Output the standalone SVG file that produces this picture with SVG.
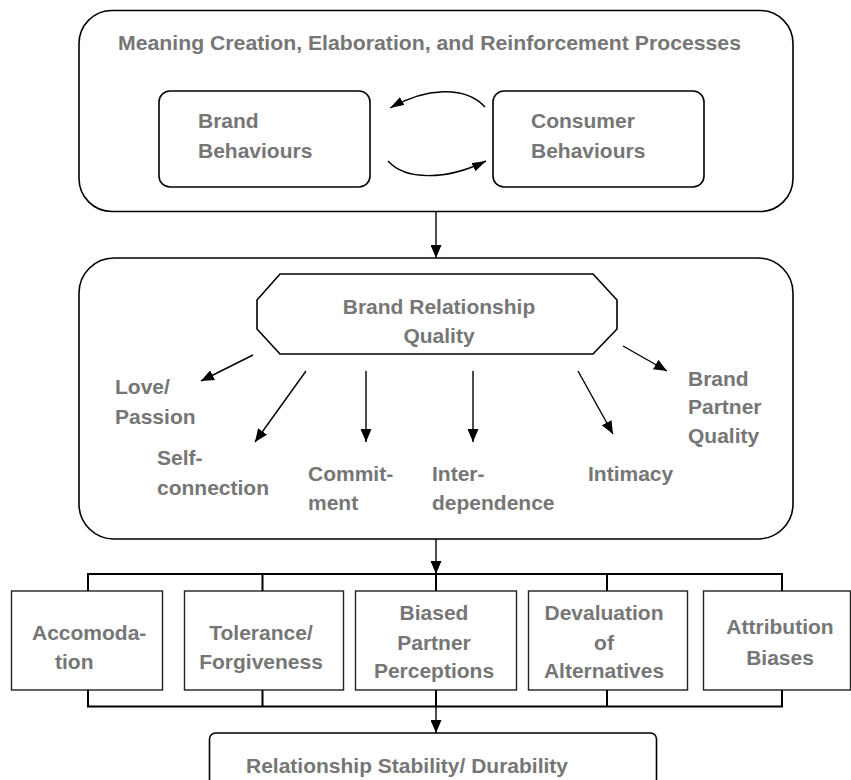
<svg xmlns="http://www.w3.org/2000/svg" width="851" height="780" viewBox="0 0 851 780">
  <style>
    .frame { fill: #ffffff; stroke: #000000; stroke-width: 1.6; }
    .box { fill: #ffffff; stroke: #222222; stroke-width: 1.4; }
    .lbl { font-family: "Liberation Sans", Arial, sans-serif; font-weight: bold; font-size: 21px; fill: #767676; }
    .mid { text-anchor: middle; }
    .link { fill: none; stroke: #000000; stroke-width: 1.4; }
    .bracket { fill: none; stroke: #000000; stroke-width: 2; }
  </style>
  <defs>
    <marker id="head" markerUnits="userSpaceOnUse" markerWidth="13" markerHeight="11" refX="13" refY="5.5" orient="auto">
      <path d="M0,0 L13,5.5 L0,11 z" fill="#000000"/>
    </marker>
    <marker id="headSmall" markerUnits="userSpaceOnUse" markerWidth="14" markerHeight="9" refX="14" refY="4.5" orient="auto">
      <path d="M0,0 L14,4.5 L0,9 z" fill="#000000"/>
    </marker>
  </defs>

  <rect width="851" height="780" fill="#ffffff"/>

  <!-- Meaning creation process container -->
  <g id="meaning-processes">
    <rect class="frame" x="79" y="10.5" width="714" height="201" rx="33" ry="33"/>
    <text class="lbl" x="118" y="50" textLength="623" lengthAdjust="spacingAndGlyphs">Meaning Creation, Elaboration, and Reinforcement Processes</text>
  </g>

  <g id="brand-behaviours">
    <rect class="frame" x="159" y="91" width="211" height="96" rx="11" ry="11"/>
    <text class="lbl" x="198" y="128">Brand</text>
    <text class="lbl" x="198" y="158">Behaviours</text>
  </g>

  <g id="consumer-behaviours">
    <rect class="frame" x="493" y="91" width="211" height="96" rx="11" ry="11"/>
    <text class="lbl" x="531" y="128">Consumer</text>
    <text class="lbl" x="531" y="158">Behaviours</text>
  </g>

  <!-- Brand relationship quality container -->
  <g id="relationship-quality">
    <rect class="frame" x="79" y="258" width="714" height="281" rx="35" ry="35"/>
    <polygon class="frame" points="280,274 593,274 617,300 617,329 593,354 280,354 257,329 257,300"/>
    <text class="lbl mid" x="439" y="314">Brand Relationship</text>
    <text class="lbl mid" x="439" y="343">Quality</text>
  </g>

  <g id="facet-love">
    <text class="lbl" x="115" y="394">Love/</text>
    <text class="lbl" x="115" y="424">Passion</text>
  </g>
  <g id="facet-self">
    <text class="lbl" x="157" y="465">Self-</text>
    <text class="lbl" x="157" y="495">connection</text>
  </g>
  <g id="facet-commitment">
    <text class="lbl" x="308" y="481">Commit-</text>
    <text class="lbl" x="308" y="510">ment</text>
  </g>
  <g id="facet-interdependence">
    <text class="lbl" x="432" y="481">Inter-</text>
    <text class="lbl" x="432" y="510">dependence</text>
  </g>
  <g id="facet-intimacy">
    <text class="lbl" x="588" y="481">Intimacy</text>
  </g>
  <g id="facet-partner-quality">
    <text class="lbl" x="688" y="386">Brand</text>
    <text class="lbl" x="688" y="414">Partner</text>
    <text class="lbl" x="688" y="443">Quality</text>
  </g>

  <!-- Maintenance processes -->
  <g id="accommodation">
    <rect class="box" x="11.5" y="591" width="151" height="99"/>
    <text class="lbl" x="32" y="640">Accomoda-</text>
    <text class="lbl" x="55" y="669">tion</text>
  </g>
  <g id="tolerance">
    <rect class="box" x="184.5" y="591" width="159" height="99"/>
    <text class="lbl mid" x="261" y="640">Tolerance/</text>
    <text class="lbl mid" x="261" y="669">Forgiveness</text>
  </g>
  <g id="biased-perceptions">
    <rect class="box" x="355.5" y="591" width="161" height="99"/>
    <text class="lbl mid" x="434" y="620">Biased</text>
    <text class="lbl mid" x="434" y="650">Partner</text>
    <text class="lbl mid" x="434" y="678">Perceptions</text>
  </g>
  <g id="devaluation">
    <rect class="box" x="528.5" y="591" width="159" height="99"/>
    <text class="lbl mid" x="604" y="620">Devaluation</text>
    <text class="lbl mid" x="604" y="650">of</text>
    <text class="lbl mid" x="604" y="678">Alternatives</text>
  </g>
  <g id="attribution">
    <rect class="box" x="703.5" y="591" width="147" height="99"/>
    <text class="lbl mid" x="780" y="634">Attribution</text>
    <text class="lbl mid" x="780" y="665">Biases</text>
  </g>

  <g id="stability">
    <rect class="frame" x="209.5" y="733" width="447" height="80" rx="6" ry="6"/>
    <text class="lbl" x="246" y="773">Relationship Stability/ Durability</text>
  </g>

  <!-- Connectors -->
  <g id="connectors">
    <path class="link" d="M485,107 C465,85 425,88 390,108" marker-end="url(#headSmall)"/>
    <path class="link" d="M388,161 C405,180 445,181 486,161" marker-end="url(#headSmall)"/>

    <line class="link" x1="436" y1="211.5" x2="436" y2="258" marker-end="url(#head)"/>

    <line class="link" x1="253" y1="355" x2="201" y2="381" marker-end="url(#head)"/>
    <line class="link" x1="306" y1="371" x2="255" y2="442" marker-end="url(#head)"/>
    <line class="link" x1="366" y1="371" x2="366" y2="442" marker-end="url(#head)"/>
    <line class="link" x1="473" y1="371" x2="473" y2="442" marker-end="url(#head)"/>
    <line class="link" x1="578" y1="371" x2="613" y2="434" marker-end="url(#head)"/>
    <line class="link" x1="623" y1="346" x2="667" y2="371" marker-end="url(#head)"/>

    <line class="link" x1="436" y1="539" x2="436" y2="574" marker-end="url(#head)"/>
    <path class="bracket" d="M88,591 V574 H782 V591 M262.5,574 V591 M436,574 V591 M607,574 V591"/>
    <path class="bracket" d="M88,690 V706.5 H782 V690 M262.5,706.5 V690 M436,706.5 V690 M607,706.5 V690"/>
    <line class="link" x1="436" y1="706.5" x2="436" y2="733" marker-end="url(#head)"/>
  </g>
</svg>
